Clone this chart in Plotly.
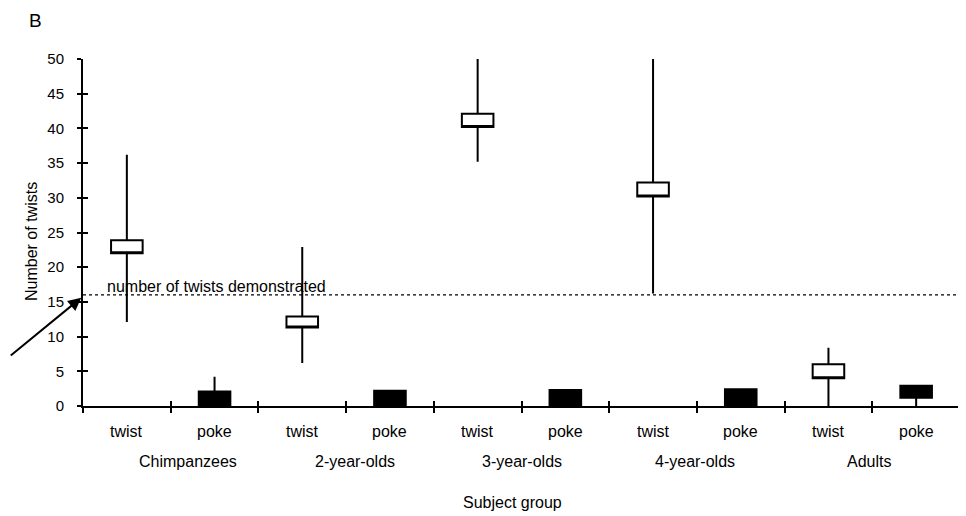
import plotly.graph_objects as go

groups = ["Chimpanzees", "2-year-olds", "3-year-olds", "4-year-olds", "Adults"]
conditions = ["twist", "poke"]
y_ticks = [0, 5, 10, 15, 20, 25, 30, 35, 40, 45, 50]
demonstrated = 16

twist_low = [12.1, 6.2, 35.2, 16.2, 0.0]
twist_q1 = [22.0, 11.3, 40.2, 30.2, 4.0]
twist_q3 = [23.9, 12.9, 42.1, 32.2, 6.0]
twist_high = [36.2, 22.9, 50.2, 50.2, 8.4]

poke_low = [0.0, 0.0, 0.0, 0.0, 0.0]
poke_q1 = [0.0, 0.0, 0.0, 0.0, 1.2]
poke_q3 = [2.1, 2.2, 2.3, 2.4, 2.9]
poke_high = [4.2, 2.2, 2.3, 2.4, 2.9]

# layout-only: small horizontal nudges of the group captions (in slot units)
group_label_nudge = [0.2, 0.1, 0.0, -0.02, -0.04]

n_slots = len(groups) * len(conditions)
twist_x = [i * 2 for i in range(len(groups))]
poke_x = [i * 2 + 1 for i in range(len(groups))]
boundaries = [i - 0.5 for i in range(n_slots + 1)]

FONT = "Liberation Sans, Arial, sans-serif"

fig = go.Figure()
fig.add_trace(go.Box(
    x=twist_x, q1=twist_q1, median=twist_q1, q3=twist_q3,
    lowerfence=twist_low, upperfence=twist_high,
    width=0.36, whiskerwidth=0, fillcolor="white",
    line=dict(color="black", width=2), hoverinfo="skip", showlegend=False,
))
fig.add_trace(go.Box(
    x=poke_x, q1=poke_q1, median=poke_q1, q3=poke_q3,
    lowerfence=poke_low, upperfence=poke_high,
    width=0.36, whiskerwidth=0, fillcolor="black",
    line=dict(color="black", width=2), hoverinfo="skip", showlegend=False,
))
# invisible trace for overlay axes (used for the inner half of crossing ticks)
fig.add_trace(go.Scatter(x=[0], y=[0], xaxis="x2", yaxis="y2", mode="markers",
                         marker=dict(opacity=0), hoverinfo="skip", showlegend=False))

x_range = [-0.5, n_slots - 0.5]
y_range = [0, 50]

fig.update_layout(
    width=958, height=508,
    margin=dict(l=75, r=6, t=51, b=110),
    paper_bgcolor="white", plot_bgcolor="white",
    font=dict(family=FONT, size=16, color="black"),
    xaxis=dict(range=x_range, tickvals=boundaries, ticks="outside", ticklen=5,
               tickwidth=2, tickcolor="black", showticklabels=False,
               showline=True, linecolor="black", linewidth=2,
               showgrid=False, zeroline=False, fixedrange=True),
    xaxis2=dict(range=x_range, overlaying="x", anchor="y", tickvals=boundaries,
                ticks="inside", ticklen=5, tickwidth=2, tickcolor="black",
                showticklabels=False, showline=False, showgrid=False,
                zeroline=False, side="bottom"),
    yaxis=dict(range=y_range, tickvals=y_ticks, ticks="outside", ticklen=4,
               tickwidth=2, tickcolor="black", ticklabelstandoff=10,
               showline=True, linecolor="black", linewidth=2,
               showgrid=False, zeroline=False, tickfont=dict(size=15)),
    yaxis2=dict(range=y_range, overlaying="y", anchor="x", tickvals=y_ticks,
                ticks="inside", ticklen=5, tickwidth=2, tickcolor="black",
                showticklabels=False, showline=False, showgrid=False,
                zeroline=False, side="left"),
)

# demonstrated reference line
fig.add_shape(type="line", xref="paper", yref="y", x0=0, x1=1.007,
              y0=demonstrated, y1=demonstrated,
              line=dict(color="black", width=1.2, dash="dot"))
fig.add_annotation(xref="paper", yref="y", x=0.025, y=demonstrated,
                   xanchor="left", yanchor="bottom", yshift=-2,
                   text="number of twists demonstrated", showarrow=False,
                   font=dict(size=16))
fig.add_annotation(xref="paper", yref="y", x=-0.002, y=demonstrated - 0.4,
                   text="", showarrow=True, arrowhead=2, arrowsize=1.3,
                   arrowwidth=2, arrowcolor="black", axref="pixel", ayref="pixel",
                   ax=-72, ay=59)

# category labels
for gi, g in enumerate(groups):
    for ci, c in enumerate(conditions):
        x = gi * 2 + ci
        fig.add_annotation(xref="x", yref="paper", x=x, y=0, yanchor="top",
                           yshift=-15, text=c, showarrow=False, font=dict(size=16))
    fig.add_annotation(xref="x", yref="paper", x=gi * 2 + 0.5 + group_label_nudge[gi],
                       y=0, yanchor="top", yshift=-45, text=g, showarrow=False,
                       font=dict(size=16))

fig.add_annotation(xref="paper", yref="paper", x=0.4896, y=0, xanchor="center",
                   yanchor="top", yshift=-86, text="Subject group", showarrow=False,
                   font=dict(size=16))
fig.add_annotation(xref="paper", yref="paper", x=-0.0593, y=0.4755,
                   xanchor="center", yanchor="middle",
                   text="Number of twists", textangle=-90, showarrow=False,
                   font=dict(size=16))
fig.add_annotation(xref="paper", yref="paper", x=-0.0536, y=1.145,
                   xanchor="center", yanchor="top", borderpad=0,
                   text="B", showarrow=False, font=dict(size=19))

fig.write_html("out.html")
